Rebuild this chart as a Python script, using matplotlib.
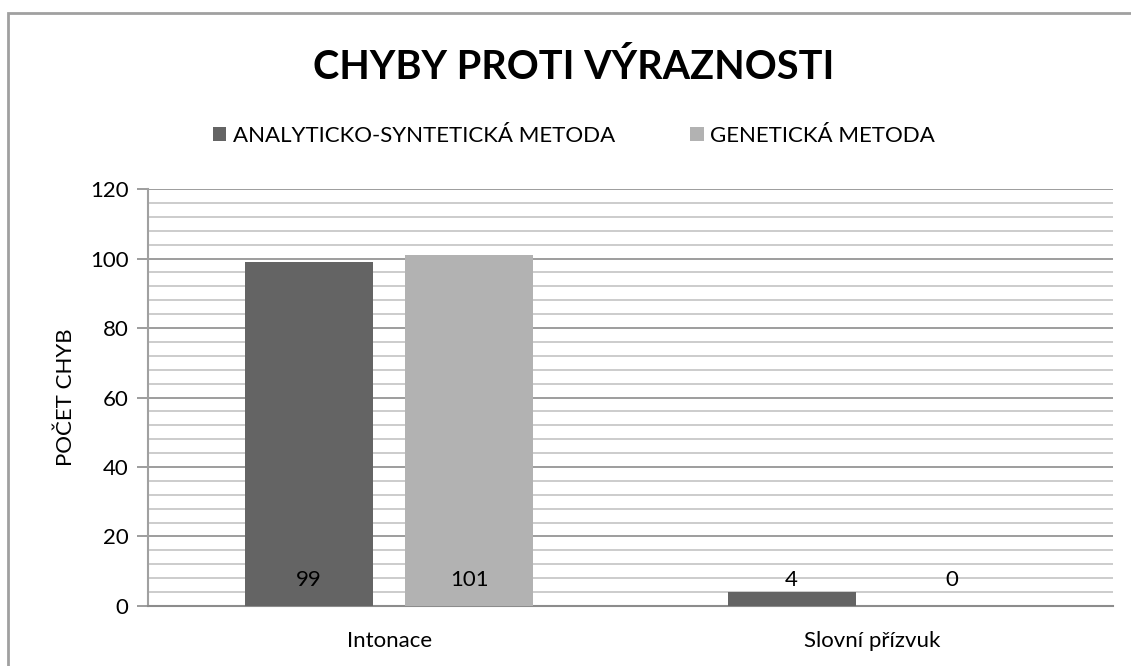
import matplotlib.pyplot as plt
import numpy as np
from matplotlib.patches import Rectangle

categories = ['Intonace', 'Slovní přízvuk']
series_names = ['ANALYTICKO-SYNTETICKÁ METODA', 'GENETICKÁ METODA']
analyticko = [99, 4]
geneticka = [101, 0]
colors = ['#646464', '#b2b2b2']

plt.rcParams['font.family'] = ['Lato', 'DejaVu Sans']

fig = plt.figure(figsize=(11.31, 6.66), dpi=100)
ax = fig.add_axes([0.1309, 0.0901, 0.8532, 0.6261])

x = np.arange(len(categories))
width = 0.265
offset = 0.166

for i, (vals, name) in enumerate(zip([analyticko, geneticka], series_names)):
    pos = x + (i * 2 - 1) * offset
    ax.bar(pos, vals, width, color=colors[i], label=name, zorder=3)
    for p, v in zip(pos, vals):
        ax.text(p, 7.5, str(v), ha='center', va='center', fontsize=16,
                color='black', zorder=4)

ax.set_xlim(-0.5, 1.5)
ax.set_ylim(0, 120)
ax.set_yticks(np.arange(0, 121, 20))
ax.set_yticks(np.arange(0, 121, 4), minor=True)
ax.grid(axis='y', which='major', color='#8c8c8c', linewidth=1.2, zorder=1)
ax.grid(axis='y', which='minor', color='#c4c4c4', linewidth=1.2, zorder=1)
ax.tick_params(axis='y', which='major', length=8, color='#8c8c8c', width=1.2,
               labelsize=16, pad=6)
ax.tick_params(axis='y', which='minor', length=0)
ax.set_xticks(x)
ax.set_xticklabels(categories, fontsize=16)
ax.tick_params(axis='x', length=0, pad=18)

for side in ['top', 'right']:
    ax.spines[side].set_visible(False)
ax.spines['left'].set_color('#a0a0a0')
ax.spines['left'].set_linewidth(1.5)
ax.spines['bottom'].set_color('#8c8c8c')
ax.spines['bottom'].set_linewidth(1.5)

ax.set_ylabel('POČET CHYB', fontsize=16, labelpad=10)

fig.text(0.5075, 0.898, 'CHYBY PROTI VÝRAZNOSTI', ha='center', va='center',
         fontsize=28.5, fontweight='bold')
fig.legend(loc='center', bbox_to_anchor=(0.5075, 0.796), ncol=2, frameon=False,
           fontsize=16, handlelength=0.6, handleheight=0.6, handletextpad=0.3,
           columnspacing=3.4)

fig.patches.append(Rectangle((8 / 1131, -0.1), 1.2, 1 - 13 / 666 + 0.1,
                             transform=fig.transFigure, fill=False,
                             edgecolor='#a0a0a0', linewidth=2))

fig.savefig('out.png', dpi=100)
